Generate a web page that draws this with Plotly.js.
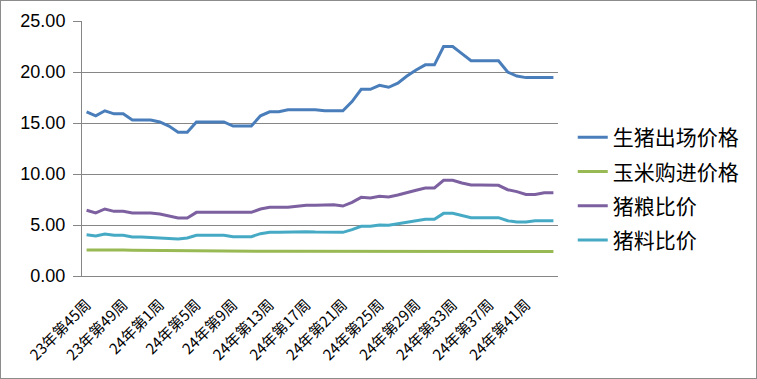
<!DOCTYPE html>
<html>
<head>
<meta charset="utf-8">
<script src="https://cdn.plot.ly/plotly-3.0.1.min.js"></script>
<style>
  html, body { margin: 0; padding: 0; background: #fff; }
  #wrap { position: relative; width: 757px; height: 379px; }
  #chart { width: 757px; height: 379px; }
  #frame { position: absolute; left: 0; top: 0; width: 755px; height: 377px; border: 1px solid #8c8c8c; pointer-events: none; }
</style>
</head>
<body>
<div id="wrap"><div id="chart"></div><div id="frame"></div></div>
<script>
const categories = [
  "23年第45周","23年第46周","23年第47周","23年第48周","23年第49周","23年第50周","23年第51周","23年第52周",
  "24年第1周","24年第2周","24年第3周","24年第4周","24年第5周","24年第6周","24年第7周","24年第8周",
  "24年第9周","24年第10周","24年第11周","24年第12周","24年第13周","24年第14周","24年第15周","24年第16周",
  "24年第17周","24年第18周","24年第19周","24年第20周","24年第21周","24年第22周","24年第23周","24年第24周",
  "24年第25周","24年第26周","24年第27周","24年第28周","24年第29周","24年第30周","24年第31周","24年第32周",
  "24年第33周","24年第34周","24年第35周","24年第36周","24年第37周","24年第38周","24年第39周","24年第40周",
  "24年第41周","24年第42周","24年第43周","24年第44周"
];

const tickLabels = [
  "23年第45周","23年第49周","24年第1周","24年第5周","24年第9周","24年第13周","24年第17周",
  "24年第21周","24年第25周","24年第29周","24年第33周","24年第37周","24年第41周"
];

const hogPrice = [
  16.1,15.7,16.2,15.9,15.9,15.3,15.3,15.3,15.1,14.7,14.1,14.1,15.1,15.1,15.1,15.1,
  14.7,14.7,14.7,15.7,16.1,16.1,16.3,16.3,16.3,16.3,16.2,16.2,16.2,17.1,18.3,18.3,
  18.7,18.5,18.9,19.6,20.2,20.7,20.7,22.5,22.5,21.8,21.1,21.1,21.1,21.1,20.0,19.6,
  19.45,19.45,19.45,19.45
];

const cornPrice = [
  2.55,2.56,2.55,2.54,2.54,2.52,2.51,2.51,2.51,2.51,2.51,2.50,2.48,2.48,2.47,2.47,
  2.46,2.42,2.42,2.42,2.42,2.42,2.43,2.43,2.43,2.43,2.43,2.43,2.43,2.44,2.44,2.44,
  2.44,2.45,2.45,2.45,2.45,2.45,2.44,2.44,2.44,2.44,2.43,2.43,2.43,2.43,2.43,2.44,
  2.48,2.47,2.42,2.41
];

const hogGrainRatio = [
  6.44,6.18,6.57,6.34,6.34,6.18,6.18,6.18,6.08,5.85,5.69,5.69,6.24,6.24,6.24,6.24,
  6.24,6.24,6.24,6.57,6.73,6.73,6.73,6.83,6.93,6.93,6.93,6.99,6.86,7.22,7.71,7.65,
  7.81,7.75,7.94,8.14,8.40,8.63,8.63,9.38,9.38,9.12,8.92,8.92,8.92,8.89,8.46,8.27,
  8.00,8.00,8.17,8.17
];

const hogFeedRatio = [
  4.05,3.92,4.12,3.99,3.99,3.82,3.82,3.76,3.76,3.63,3.63,3.73,3.99,3.99,3.99,3.99,
  3.86,3.86,3.86,4.15,4.28,4.28,4.31,4.35,4.35,4.31,4.31,4.31,4.28,4.54,4.87,4.87,
  5.00,4.97,5.13,5.29,5.42,5.56,5.56,6.14,6.14,5.92,5.72,5.72,5.72,5.72,5.42,5.29,
  5.29,5.42,5.42,5.42
];

const seriesNames = ["生猪出场价格","玉米购进价格","猪粮比价","猪料比价"];
const seriesColors = ["#4a7ebb","#98b954","#7d60a0","#46aac5"];
const seriesValues = [hogPrice, cornPrice, hogGrainRatio, hogFeedRatio];

const traces = seriesValues.map((vals, k) => ({
  type: "scatter",
  mode: "lines",
  x: categories,
  y: vals,
  name: seriesNames[k],
  legendgroup: "g" + k,
  line: { color: seriesColors[k], width: 3 },
  hoverinfo: "x+y+name"
}));

// tick marks at category boundaries (Excel style)
const n = categories.length;
const boundaryTicks = [];
for (let i = 0; i <= n; i++) boundaryTicks.push(i - 0.5);

const layout = {
  width: 757,
  height: 379,
  margin: { l: 82, r: 199, t: 21, b: 103 },
  paper_bgcolor: "#ffffff",
  plot_bgcolor: "#ffffff",
  showlegend: true,
  font: { family: "Liberation Sans, Noto Sans CJK SC, sans-serif", color: "#000" },
  xaxis: {
    type: "category",
    range: [-0.5, n - 0.5],
    tickmode: "array",
    tickvals: tickLabels,
    ticktext: tickLabels,
    tickangle: -45,
    ticks: "",
    ticklabelstandoff: 13,
    tickfont: { family: "Noto Sans CJK SC, sans-serif", size: 15, color: "#000" },
    showgrid: false,
    showline: true,
    linecolor: "#868686",
    linewidth: 1,
    zeroline: false,
    fixedrange: true
  },
  xaxis2: {
    overlaying: "x",
    anchor: "y",
    side: "bottom",
    range: [-0.5, n - 0.5],
    tickmode: "array",
    tickvals: boundaryTicks,
    ticks: "outside",
    ticklen: 5,
    tickcolor: "#868686",
    showticklabels: false,
    showgrid: false,
    zeroline: false,
    showline: false
  },
  yaxis: {
    range: [0, 25],
    dtick: 5,
    tick0: 0,
    tickformat: ".2f",
    ticks: "outside",
    ticklen: 8,
    tickcolor: "#868686",
    ticklabelstandoff: 4,
    tickfont: { family: "Liberation Sans, sans-serif", size: 18, color: "#000" },
    showgrid: true,
    gridcolor: "#868686",
    gridwidth: 1,
    showline: true,
    linecolor: "#868686",
    linewidth: 1,
    zeroline: false,
    fixedrange: true
  },
  legend: {
    x: 1.031,
    xanchor: "left",
    y: 0.341,
    yanchor: "middle",
    font: { family: "Noto Sans CJK SC, sans-serif", size: 21, color: "#000" },
    tracegroupgap: 4,
    bgcolor: "rgba(0,0,0,0)",
    borderwidth: 0
  }
};

Plotly.newPlot("chart", traces, layout, { displayModeBar: false, staticPlot: true });
</script>
</body>
</html>
